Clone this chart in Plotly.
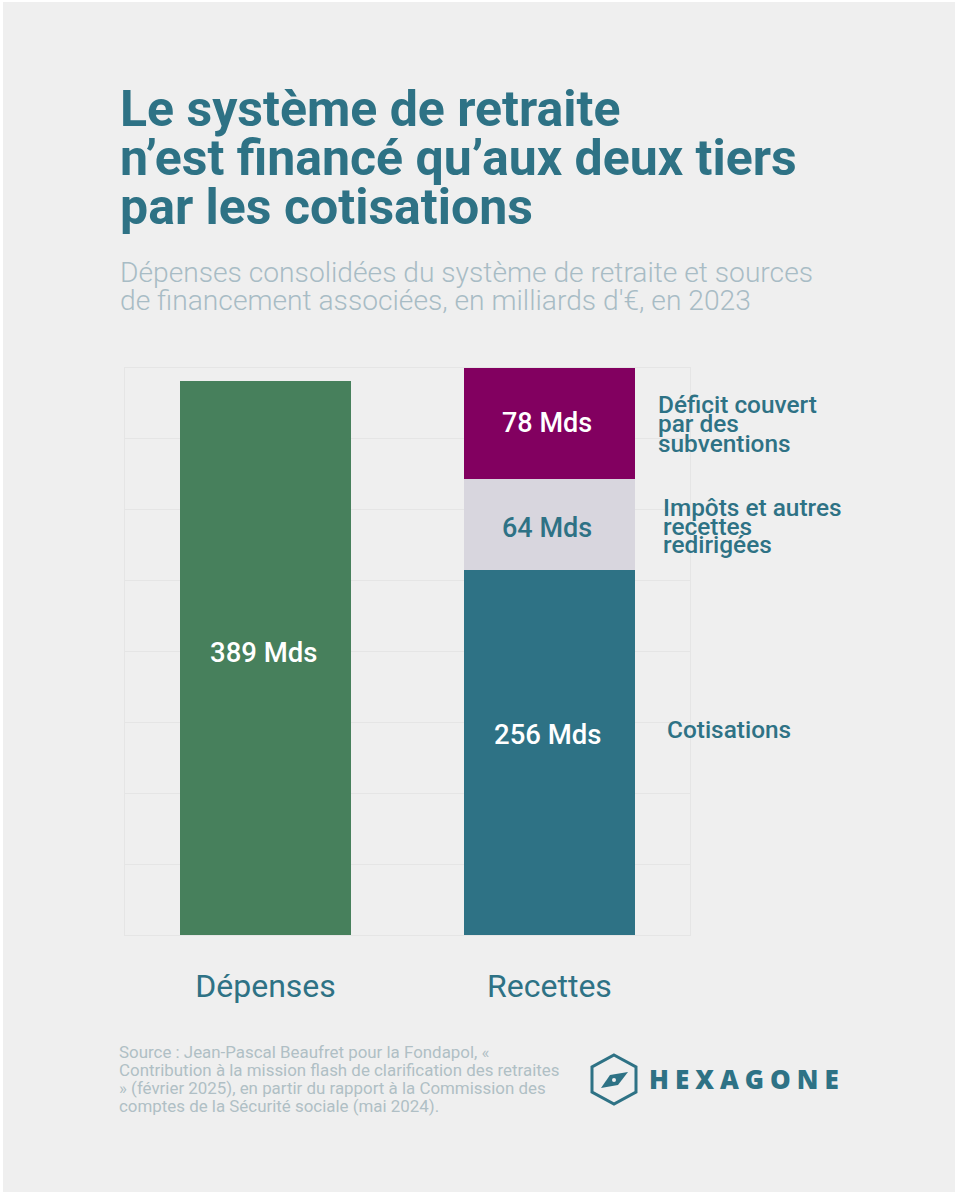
import plotly.graph_objects as go

W, H = 959, 1200
categories = ["Dépenses", "Recettes"]
depenses = [389, None]
cotisations = [None, 256]
impots = [None, 64]
deficit = [None, 78]
grid_ticks = [0, 49.75, 99.5, 149.25, 199, 248.75, 298.5, 348.25]

title_lines = ["Le système de retraite", "n’est financé qu’aux deux tiers", "par les cotisations"]
subtitle_lines = ["Dépenses consolidées du système de retraite et sources",
                  "de financement associées, en milliards d'€, en 2023"]
source_lines = ["Source : Jean-Pascal Beaufret pour la Fondapol, «",
                "Contribution à la mission flash de clarification des retraites",
                "» (février 2025), en partir du rapport à la Commission des",
                "comptes de la Sécurité sociale (mai 2024)."]

TEAL = "#2E7285"; GREEN = "#47805C"; PURPLE = "#820060"; GREY = "#D8D6DE"
BG = "#EFEFEF"; GRID = "#E5E5E5"
FONT = "Roboto"

def px(x): return x / W
def py(y): return 1 - y / H

fig = go.Figure()
for name, vals, col in [("Dépenses", depenses, GREEN), ("Cotisations", cotisations, TEAL),
                        ("Impôts et autres recettes redirigées", impots, GREY),
                        ("Déficit couvert par des subventions", deficit, PURPLE)]:
    fig.add_bar(x=categories, y=vals, name=name, marker=dict(color=col, line_width=0), hoverinfo="x+y")

anns = []
def txt(x, y, s, size, color, weight=400, anchor="left", family=FONT):
    anns.append(dict(xref="paper", yref="paper", x=px(x), y=py(y), text=s, showarrow=False,
                     xanchor=anchor, yanchor="middle", align="left",
                     font=dict(family=family, size=size, color=color, weight=weight)))

for yy, s in zip([109, 158, 207], title_lines):
    txt(118, yy, s, 50, TEAL, 700)
for yy, s in zip([272, 300], subtitle_lines):
    txt(118, yy, s, 28.2, "#A8BCC5", 300)
for yy, s in zip([1052, 1070, 1088, 1106], source_lines):
    txt(117, yy, s, 16.9, "#B0BFC5", 400)

for yy, s in zip([404, 424, 443], ["Déficit couvert", "par des", "subventions"]):
    txt(656, yy, s, 24.4, TEAL, 500)
for yy, s in zip([507, 526, 545], ["Impôts et autres", "recettes", "redirigées"]):
    txt(661, yy, s, 24.4, TEAL, 500)
txt(665, 730, "Cotisations", 24.4, TEAL, 500)

txt(263.5, 652, f"{depenses[0]} Mds", 27.5, "white", 500, "center")
txt(547, 423, f"{deficit[1]} Mds", 27, "white", 500, "center")
txt(547, 528, f"{impots[1]} Mds", 27, TEAL, 500, "center")
txt(547, 734, f"{cotisations[1]} Mds", 27.5, "white", 500, "center")
txt(647, 1079, "HEXAGONE", 26, TEAL, 800, "left", "Open Sans")

def poly(pts):
    return "M" + " L".join(f"{px(a):.5f},{py(b):.5f}" for a, b in pts) + " Z"

shapes = [
    dict(type="rect", xref="paper", yref="paper", x0=px(3), x1=px(955), y0=py(1192), y1=py(2),
         fillcolor=BG, line_width=0, layer="below"),
    dict(type="path", xref="paper", yref="paper", line=dict(color=TEAL, width=3),
         path=poly([(614, 1055), (636, 1067), (636, 1092), (614, 1104), (592, 1092), (592, 1067)])),
    dict(type="path", xref="paper", yref="paper", line_width=0, fillcolor=TEAL,
         path=poly([(601, 1088), (610, 1075), (628, 1072), (618, 1085)])),
    dict(type="circle", xref="paper", yref="paper", line_width=0, fillcolor=BG,
         x0=px(612), x1=px(616), y0=py(1082), y1=py(1078)),
]

fig.update_layout(
    width=W, height=H, margin=dict(l=0, r=0, t=0, b=0, autoexpand=False),
    paper_bgcolor="white", plot_bgcolor=BG, barmode="stack", bargap=0.398,
    showlegend=False, annotations=anns, shapes=shapes,
    font=dict(family=FONT),
    xaxis=dict(domain=[px(125), px(690)], range=[-0.495, 1.495],
               tickfont=dict(size=32, color=TEAL, family=FONT),
               showline=True, mirror=True, linecolor=GRID, linewidth=1, showgrid=False,
               ticks="outside", ticklen=23, tickcolor="rgba(0,0,0,0)", fixedrange=True),
    yaxis=dict(domain=[py(935), py(368)], range=[0, 398], tickvals=grid_ticks, showticklabels=False,
               showgrid=True, gridcolor=GRID, gridwidth=1, zeroline=False,
               showline=True, mirror=True, linecolor=GRID, linewidth=1, fixedrange=True),
)

post = """
document.body.style.margin = '0';
document.querySelectorAll('.annotation-text').forEach(function (t) {
  if (t.textContent === 'HEXAGONE') { t.style.letterSpacing = '6px'; }
});
"""
fig.write_html("out.html", post_script=post, config=dict(displayModeBar=False))
